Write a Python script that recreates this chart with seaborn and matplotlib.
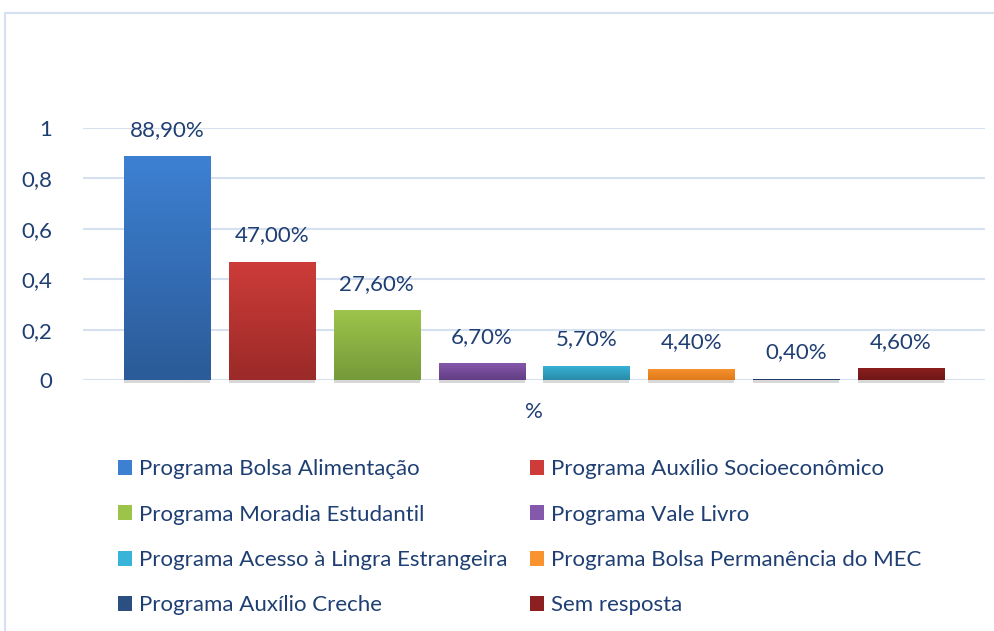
import matplotlib
matplotlib.use("Agg")
import matplotlib.pyplot as plt
import numpy as np
import pandas as pd
import seaborn as sns
from matplotlib.colors import LinearSegmentedColormap
from matplotlib.patches import Patch, Rectangle

programs = [
    "Programa Bolsa Alimentação",
    "Programa Auxílio Socioeconômico",
    "Programa Moradia Estudantil",
    "Programa Vale Livro",
    "Programa Acesso à Lingra Estrangeira",
    "Programa Bolsa Permanência do MEC",
    "Programa Auxílio Creche",
    "Sem resposta",
]
values = [0.889, 0.47, 0.276, 0.067, 0.057, 0.044, 0.004, 0.046]
labels = ["88,90%", "47,00%", "27,60%", "6,70%", "5,70%", "4,40%", "0,40%", "4,60%"]
top_colors = ["#3D80D2", "#CD3C39", "#9DC44A", "#8458AA", "#37B4D8", "#F8932F", "#2A4F80", "#8C1F1F"]
bottom_colors = ["#2B5B98", "#9B2A28", "#76993A", "#623E84", "#2A8BA8", "#E07A1A", "#1F3864", "#6E1616"]
yticks = [0, 0.2, 0.4, 0.6, 0.8, 1]
ytick_labels = ["0", "0,2", "0,4", "0,6", "0,8", "1"]

text_color = "#1F3F73"
grid_color = "#D5E0F0"
fs = 16

sns.set_theme(style="white")
plt.rcParams["font.family"] = ["Lato", "DejaVu Sans"]

df = pd.DataFrame({"Programa": programs, "Valor": values})

fig = plt.figure(figsize=(9.95, 6.31), dpi=100)
ax = fig.add_axes([0.0834, 0.3978, 0.9066, 0.3992])

sns.barplot(data=df, x="Programa", y="Valor", hue="Programa", order=programs,
            hue_order=programs, palette=top_colors, width=0.82, legend=False,
            ax=ax, zorder=3)

# vertical gradient fill in each bar, Excel style
for i, patch in enumerate(ax.patches):
    x, y = patch.get_x(), patch.get_y()
    w, h = patch.get_width(), patch.get_height()
    cmap = LinearSegmentedColormap.from_list("g", [bottom_colors[i], top_colors[i]])
    grad = np.linspace(0, 1, 100).reshape(-1, 1)
    im = ax.imshow(grad, extent=[x, x + w, y, y + h], aspect="auto", cmap=cmap,
                   origin="lower", zorder=3)
    im.set_clip_path(patch)
    patch.set_facecolor("none")
    patch.set_edgecolor("none")
    # soft shadow under bar
    ax.add_patch(Rectangle((x, -0.012), w, 0.012, facecolor="#BFBFBF", alpha=0.6,
                           edgecolor="none", zorder=2, clip_on=False))
    ax.annotate(labels[i], (x + w / 2, y + h), xytext=(0, 19), textcoords="offset points",
                ha="center", va="center", fontsize=fs, color=text_color,
                annotation_clip=False)

ax.set_xlim(-0.8, 7.8)
ax.set_ylim(0, 1)
ax.set_yticks(yticks)
ax.set_yticklabels(ytick_labels, fontsize=fs, color=text_color)
ax.set_xticks([])
ax.tick_params(axis="y", length=0, pad=22)
ax.set_xlabel("%", fontsize=fs, color=text_color, labelpad=16)
ax.set_ylabel("")
ax.grid(axis="y", color=grid_color, linewidth=1.5, zorder=0)
ax.set_axisbelow(True)
for s in ax.spines.values():
    s.set_visible(False)

# legend, row-wise order in two columns
order = [0, 2, 4, 6, 1, 3, 5, 7]
handles = [Patch(facecolor=top_colors[i], edgecolor="none") for i in order]
fig.legend(handles, [programs[i] for i in order], ncol=2, loc="upper left",
           bbox_to_anchor=(0.1186, 0.272), frameon=False, fontsize=fs,
           labelcolor=text_color, handlelength=0.65, handleheight=0.65,
           handletextpad=0.3, columnspacing=1.0, labelspacing=1.14,
           borderaxespad=0, borderpad=0)

# outer chart frame
fig.patches.append(Rectangle((5 / 995, -0.1), 1.1, 1 - 13 / 631 + 0.1,
                             transform=fig.transFigure, fill=False,
                             edgecolor=grid_color, linewidth=1.5))

fig.savefig("out.png", dpi=100)
